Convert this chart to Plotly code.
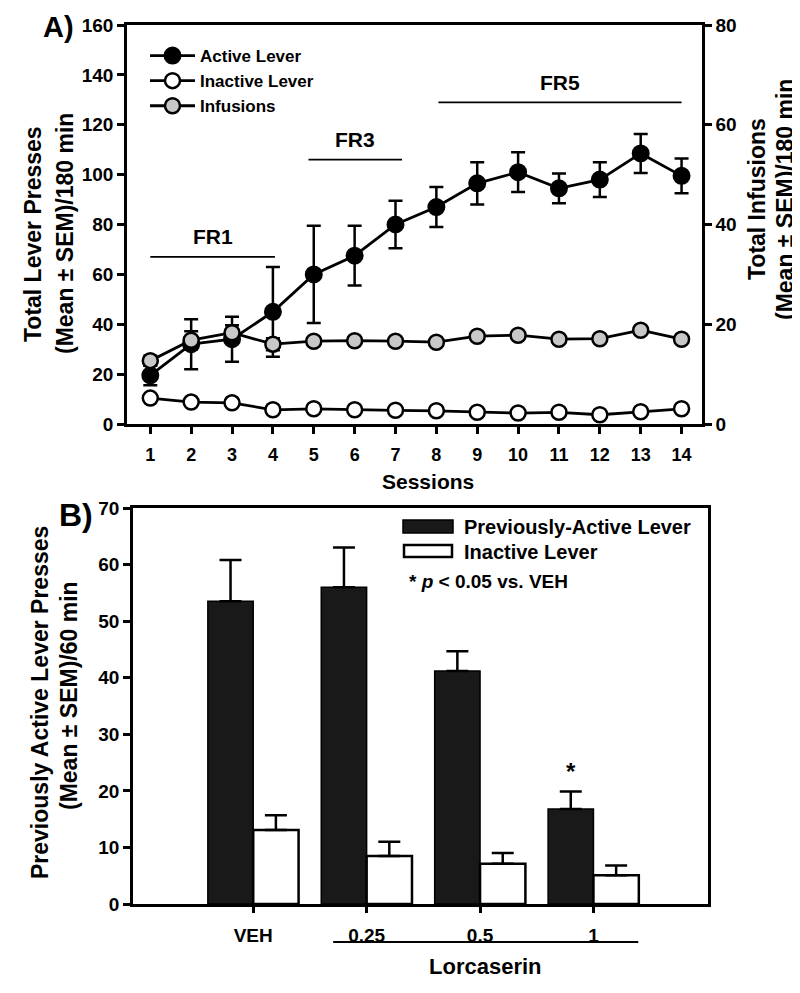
import plotly.graph_objects as go

# ---- Panel A data ----
sessions = list(range(1, 15))
active_mean = [19.5, 32, 34, 45, 60, 67.5, 80, 87, 96.5, 101, 94.5, 98, 108.5, 99.5]
active_sem = [4, 10, 9, 18, 19.5, 12, 9.5, 8, 8.5, 8, 6, 7, 7.8, 7]
inactive_mean = [10.4, 8.8, 8.5, 5.7, 6.1, 5.7, 5.5, 5.3, 4.7, 4.4, 4.7, 3.7, 4.9, 6.1]
inactive_sem = [1.2, 1.0, 1.0, 0.8, 0.8, 0.7, 0.7, 0.6, 0.6, 0.6, 0.6, 0.5, 0.6, 0.7]
infusions_mean = [12.7, 16.8, 18.3, 16.0, 16.6, 16.7, 16.6, 16.4, 17.6, 17.8, 17.0, 17.1, 18.8, 17.0]
infusions_sem = [1.0, 1.8, 1.5, 1.2, 0.8, 0.6, 0.6, 0.5, 0.6, 0.6, 0.5, 0.5, 0.7, 0.5]

# schedule phases: label, first session, last session, line height (lever presses)
phases = [("FR1", 1.0, 4.05, 67), ("FR3", 4.87, 7.16, 106), ("FR5", 8.05, 14.0, 129)]

# ---- Panel B data ----
doses = ["VEH", "0.25", "0.5", "1"]
prev_active_mean = [53.5, 56.0, 41.2, 16.8]
prev_active_sem = [7.3, 7.0, 3.5, 3.1]
inact_b_mean = [13.1, 8.5, 7.1, 5.1]
inact_b_sem = [2.6, 2.5, 1.9, 1.7]

FONT = "Liberation Sans, Arial, sans-serif"
W, H = 800, 993
OFF = 8  # page margin around the figure


def px(x):
    return (x - OFF) / W


def py(y):
    return 1 - (y - OFF) / H


def note(x, y, text, size, angle=0, anchor="center", ref=("paper", "paper")):
    return dict(x=x, y=y, xref=ref[0], yref=ref[1], text=text, showarrow=False,
                textangle=angle, xanchor=anchor, yanchor="middle", font=dict(size=size))


fig = go.Figure()

err = dict(type="data", color="black", thickness=2.5, width=7)

fig.add_trace(go.Scatter(
    x=sessions, y=active_mean, name="Active Lever", mode="lines+markers",
    error_y=dict(array=active_sem, **err),
    line=dict(color="black", width=2.8),
    marker=dict(size=16, color="black", line=dict(color="black", width=2)),
    xaxis="x", yaxis="y"))
fig.add_trace(go.Scatter(
    x=sessions, y=inactive_mean, name="Inactive Lever", mode="lines+markers",
    error_y=dict(array=inactive_sem, **err),
    line=dict(color="black", width=2.8),
    marker=dict(size=15, color="white", line=dict(color="black", width=2.5)),
    xaxis="x", yaxis="y"))
fig.add_trace(go.Scatter(
    x=sessions, y=infusions_mean, name="Infusions", mode="lines+markers",
    error_y=dict(array=infusions_sem, **err),
    line=dict(color="black", width=2.8),
    marker=dict(size=15, color="rgb(200,200,200)", line=dict(color="black", width=2.5)),
    xaxis="x", yaxis="y2"))

errb = dict(type="data", color="black", thickness=2.5, width=11, symmetric=False)
fig.add_trace(go.Bar(
    x=doses, y=prev_active_mean, name="Previously-Active Lever",
    marker=dict(color="rgb(25,25,25)", line=dict(color="black", width=1.5)),
    error_y=dict(array=prev_active_sem, arrayminus=[0] * 4, **errb),
    xaxis="x2", yaxis="y3", showlegend=False))
fig.add_trace(go.Bar(
    x=doses, y=inact_b_mean, name="Inactive Lever",
    marker=dict(color="white", line=dict(color="black", width=2.5)),
    error_y=dict(array=inact_b_sem, arrayminus=[0] * 4, **errb),
    xaxis="x2", yaxis="y3", showlegend=False))

axis_common = dict(showline=True, linecolor="black", linewidth=2.5, ticks="outside",
                   ticklen=7, tickwidth=2.5, tickcolor="black", showgrid=False,
                   zeroline=False, automargin=False, tickfont=dict(size=19, color="black"))

shapes = []
annotations = []

for label, x0, x1, yv in phases:
    shapes.append(dict(type="line", xref="x", yref="y", x0=x0, x1=x1, y0=yv, y1=yv,
                       line=dict(color="black", width=1.8)))
    annotations.append(note((x0 + x1) / 2, yv + 8, label, 21, ref=("x", "y")))

# Panel B legend (drawn boxes)
shapes.append(dict(type="rect", xref="paper", yref="paper", x0=px(403), x1=px(453),
                   y0=py(533), y1=py(520), fillcolor="rgb(25,25,25)", line=dict(color="black", width=1.5)))
shapes.append(dict(type="rect", xref="paper", yref="paper", x0=px(404), x1=px(452),
                   y0=py(557), y1=py(545), fillcolor="white", line=dict(color="black", width=2.5)))
annotations += [
    note(px(462), py(527), "Previously-Active Lever", 20, anchor="left"),
    note(px(462), py(552), "Inactive Lever", 20, anchor="left"),
    note(px(407), py(581), "* <i>p</i> &lt; 0.05 vs. VEH", 19, anchor="left"),
]

# Lorcaserin bracket
shapes.append(dict(type="line", xref="x2", yref="paper", x0=0.705, x1=3.395,
                   y0=py(942), y1=py(942), line=dict(color="black", width=1.8)))
annotations.append(note(2.05, py(966), "Lorcaserin", 22, ref=("x2", "paper")))
# significance star
annotations.append(note(2.8, 23.5, "*", 24, ref=("x2", "y3")))

# axis titles and panel letters
annotations += [
    note(px(33), py(234), "Total Lever Presses", 23, angle=-90),
    note(px(65), py(234), "(Mean ± SEM)/180 min", 23, angle=-90),
    note(px(757), py(199), "Total Infusions", 23, angle=-90),
    note(px(785), py(200), "(Mean ± SEM)/180 min", 23, angle=-90),
    note(px(428), py(481), "Sessions", 21),
    note(px(40), py(703), "Previously Active Lever Presses", 23, angle=-90),
    note(px(69), py(696), "(Mean ± SEM)/60 min", 23, angle=-90),
    note(px(58), py(27), "A)", 29),
    note(px(76), py(515), "B)", 32),
]

fig.update_layout(
    width=W, height=H,
    margin=dict(l=0, r=0, t=0, b=0, autoexpand=False),
    paper_bgcolor="white", plot_bgcolor="white",
    font=dict(family=FONT, color="black", size=18, weight="bold"),
    barmode="group", bargap=0.2, bargroupgap=0,
    xaxis=dict(domain=[px(127), px(702)], anchor="y", range=[0.43, 14.5],
               tickmode="array", tickvals=sessions, mirror=True,
               ticklabelstandoff=6, **{**axis_common, "tickfont": dict(size=18, color="black")}),
    yaxis=dict(domain=[py(424), py(25)], anchor="x", range=[0, 160], dtick=20,
               **axis_common),
    yaxis2=dict(overlaying="y", side="right", anchor="x", range=[0, 80], dtick=20,
                **axis_common),
    xaxis2=dict(domain=[px(133), px(708)], anchor="y3", type="category",
                categoryorder="array", categoryarray=doses, range=[-1.06, 4.01],
                mirror=True, ticklabelstandoff=6,
                **{**axis_common, "ticklen": 6, "tickfont": dict(size=19, color="black")}),
    yaxis3=dict(domain=[py(904), py(508)], anchor="x2", range=[0, 70], dtick=10,
                mirror=True, **axis_common),
    legend=dict(x=px(145), y=py(38), xanchor="left", yanchor="top", itemwidth=45,
                bgcolor="rgba(0,0,0,0)", font=dict(size=17), tracegroupgap=0),
    shapes=shapes,
    annotations=annotations,
)

fig.write_html("out.html")
